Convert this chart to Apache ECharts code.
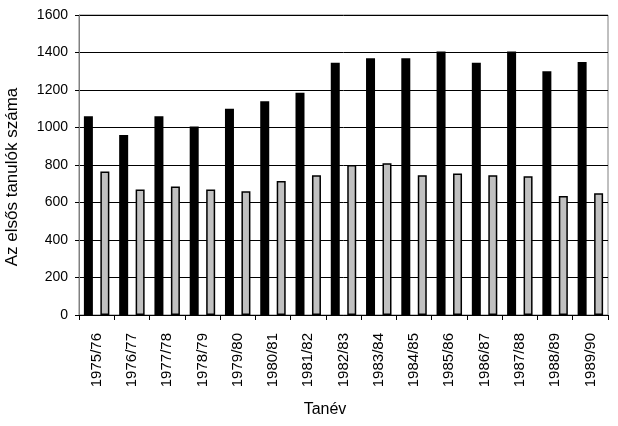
<!DOCTYPE html>
<html><head><meta charset="utf-8">
<script src="https://cdn.jsdelivr.net/npm/echarts@6/dist/echarts.min.js"></script>
<style>html,body{margin:0;padding:0;background:#fff}#c{width:618px;height:426px}</style>
</head><body><div id="c"></div>
<script>
const categories = ['1975/76','1976/77','1977/78','1978/79','1979/80','1980/81','1981/82','1982/83','1983/84','1984/85','1985/86','1986/87','1987/88','1988/89','1989/90'];
const seriesBlack = [1060,960,1060,1005,1100,1140,1185,1345,1370,1370,1405,1345,1405,1300,1350];
const seriesGray = [765,670,685,670,660,715,745,800,810,745,755,745,740,635,650];
const yTicks = [0,200,400,600,800,1000,1200,1400,1600];
const yTitle = 'Az elsős tanulók száma';
const xTitle = 'Tanév';

const chart = echarts.init(document.getElementById('c'));
const font = 'Arial, "Liberation Sans", sans-serif';
chart.setOption({
  animation: false,
  backgroundColor: '#fff',
  grid: {left: 79, right: 10, top: 15, bottom: 111, show: true, borderColor: '#808080', borderWidth: 1, backgroundColor: '#fff'},
  xAxis: {
    type: 'category', data: categories,
    axisLine: {lineStyle: {color: '#000', width: 1}},
    axisTick: {show: true, length: 5, lineStyle: {color: '#000'}},
    axisLabel: {rotate: 90, fontSize: 15, color: '#000', fontFamily: font, margin: 18}
  },
  yAxis: {
    type: 'value', min: yTicks[0], max: yTicks[yTicks.length-1], interval: 200,
    axisLine: {show: true, lineStyle: {color: '#808080', width: 1}},
    axisTick: {show: true, length: 4, lineStyle: {color: '#000'}},
    axisLabel: {fontSize: 14, color: '#000', fontFamily: font, margin: 11, formatter: v => String(v)},
    splitLine: {lineStyle: {color: '#000', width: 1}}
  },
  series: [
    {type: 'bar', data: seriesBlack, barWidth: 9, barGap: '83%', itemStyle: {color: '#000'}},
    {type: 'bar', data: seriesGray, barWidth: 9, itemStyle: {color: '#c0c0c0', borderColor: '#000', borderWidth: 1.5}}
  ],
  graphic: [
    {type: 'text', x: 12, y: 177, rotation: Math.PI/2, style: {text: yTitle, fontSize: 17, fontFamily: font, fill: '#000', textAlign: 'center', textVerticalAlign: 'middle'}},
    {type: 'text', x: 325, y: 410, style: {text: xTitle, fontSize: 16, fontFamily: font, fill: '#000', textAlign: 'center', textVerticalAlign: 'middle'}}
  ]
});
</script></body></html>
